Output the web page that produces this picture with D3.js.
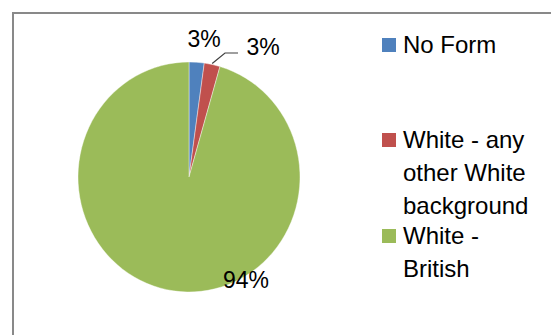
<!DOCTYPE html>
<html>
<head>
<meta charset="utf-8">
<script src="https://cdn.jsdelivr.net/npm/d3@7"></script>
<style>
  body { margin: 0; background: #fff; }
  text { font-family: "Liberation Sans", Arial, sans-serif; fill: #000; }
</style>
</head>
<body>
<div id="chart"></div>
<script>
// slice data, clockwise from 12 o'clock
var categories = ["No Form", "White - any other White background", "White - British"];
var values = [2.2, 2.3, 95.5];
var pctLabels = ["3%", "3%", "94%"];
var colors = ["#4F81BD", "#C0504D", "#9BBB59"];
var legendLines = [["No Form"], ["White - any", "other White", "background"], ["White -", "British"]];

var svg = d3.select("#chart").append("svg").attr("width", 551).attr("height", 335);

// chart frame (runs off right and bottom edge)
svg.append("rect")
    .attr("x", 13).attr("y", 13)
    .attr("width", 600).attr("height", 400)
    .attr("fill", "#fff")
    .attr("stroke", "#898989")
    .attr("stroke-width", 2);

var cx = 189, cy = 177, rx = 111, ry = 115;

var pie = d3.pie().sort(null).value(function(d) { return d; });
var arcs = pie(values);
var arc = d3.arc().innerRadius(0).outerRadius(rx);

var g = svg.append("g")
    .attr("transform", "translate(" + cx + "," + cy + ") scale(1," + (ry / rx) + ")");

g.selectAll("path")
    .data(arcs)
    .enter()
    .append("path")
    .attr("d", arc)
    .attr("fill", function(d, i) { return colors[i]; })
    .attr("stroke", "#fff")
    .attr("stroke-width", 0.4);

// data labels
function edge(a, k) {
    var m = (a.startAngle + a.endAngle) / 2;
    return [cx + Math.sin(m) * rx * k, cy - Math.cos(m) * ry * k];
}

svg.append("text").attr("x", 204).attr("y", 47)
    .attr("text-anchor", "middle").style("font-size", "23px").text(pctLabels[0]);

var p1 = edge(arcs[1], 1.0);
svg.append("polyline")
    .attr("points", [[p1[0], p1[1] - 1], [225, 53], [238, 53]].map(function(p) { return p.join(","); }).join(" "))
    .attr("fill", "none").attr("stroke", "#404040").attr("stroke-width", 1.2);
svg.append("text").attr("x", 263).attr("y", 55)
    .attr("text-anchor", "middle").style("font-size", "23px").text(pctLabels[1]);

svg.append("text").attr("x", 246).attr("y", 288)
    .attr("text-anchor", "middle").style("font-size", "23px").text(pctLabels[2]);

// legend
var legendTop = [38, 133, 229];
var legend = svg.selectAll(".legend")
    .data(categories)
    .enter()
    .append("g")
    .attr("class", "legend");

legend.append("rect")
    .attr("x", 382)
    .attr("y", function(d, i) { return legendTop[i]; })
    .attr("width", 14).attr("height", 14)
    .attr("fill", function(d, i) { return colors[i]; });

legend.each(function(d, i) {
    var t = d3.select(this).append("text")
        .attr("x", 403)
        .attr("y", legendTop[i] + 15)
        .style("font-size", "24px");
    legendLines[i].forEach(function(line, j) {
        t.append("tspan").attr("x", 403).attr("dy", j == 0 ? 0 : 33).text(line);
    });
});
</script>
</body>
</html>
